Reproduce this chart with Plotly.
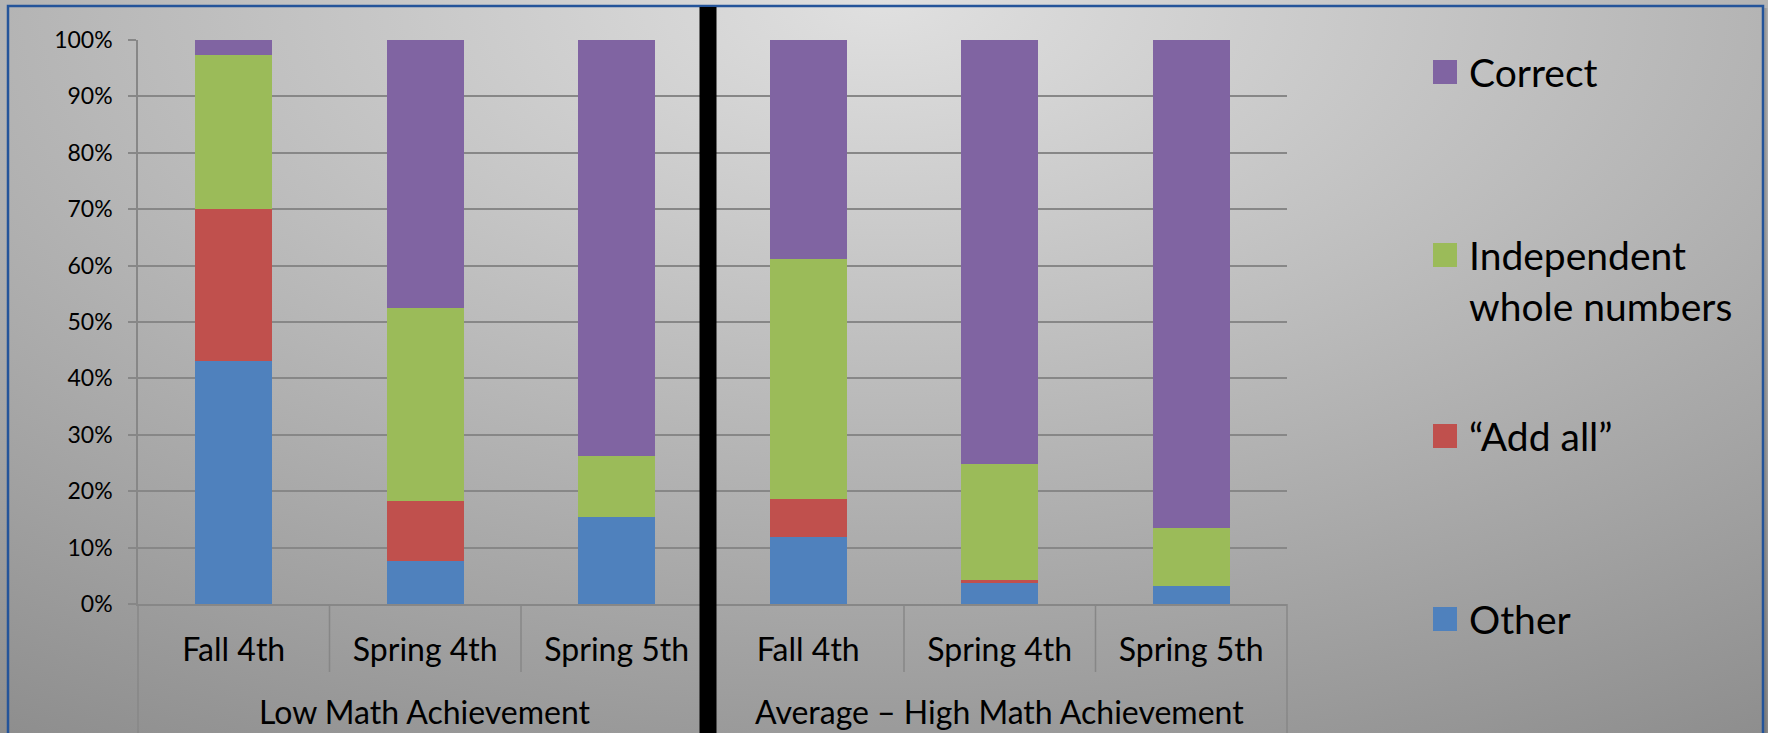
import base64
import plotly.graph_objects as go

# ---- data -------------------------------------------------------------
group_names = ["Low Math Achievement", "Average – High Math Achievement"]
period_names = ["Fall 4th", "Spring 4th", "Spring 5th"]
groups = [g for g in group_names for _ in period_names]
periods = period_names * len(group_names)

other = [43.0, 7.7, 15.5, 11.8, 3.7, 3.2]
add_all = [27.0, 10.5, 0.0, 6.8, 0.5, 0.0]
independent = [27.3, 34.3, 10.7, 42.6, 20.7, 10.3]
correct = [2.7, 47.5, 73.8, 38.8, 75.1, 86.5]

series_names = ["Other", "“Add all”", "Independent<br>whole numbers", "Correct"]
series_values = [other, add_all, independent, correct]
series_colors = ["#4f81bd", "#c0504d", "#9bbb59", "#8064a2"]

y_ticks = list(range(0, 101, 10))
y_tick_text = [f"{v}%" for v in y_ticks]

# unique category keys (group + period); only the period is shown as tick text
cat_keys = [f"{g} · {p}" for g, p in zip(groups, periods)]

# ---- geometry (pixels) ------------------------------------------------
W, H = 1768, 733
PL, PR, PT, PB = 138, 1287, 40, 604          # plot area edges
FONT = "Lato"
GRID = "#878787"


def px_x(px):
    return (px - PL) / (PR - PL)


def px_y(py):
    return (PB - py) / (PB - PT)


fig = go.Figure()
for name, vals, col in zip(series_names, series_values, series_colors):
    fig.add_trace(go.Bar(
        x=cat_keys, y=vals, name=name,
        marker=dict(color=col, line=dict(width=0)),
        showlegend=False,
    ))

# soft grey background gradient
svg = (
    f'<svg xmlns="http://www.w3.org/2000/svg" width="{W}" height="{H}">'
    '<defs><radialGradient id="g" gradientUnits="userSpaceOnUse" cx="0" cy="0" r="1" '
    'gradientTransform="translate(884,0) scale(1800,950)">'
    '<stop offset="0" stop-color="#e0e0e0"/><stop offset="1" stop-color="#868686"/>'
    '</radialGradient></defs>'
    f'<rect width="{W}" height="{H}" fill="url(#g)"/></svg>'
)
bg_uri = "data:image/svg+xml;base64," + base64.b64encode(svg.encode()).decode()

shapes = []
# outer frame
shapes.append(dict(type="rect", xref="paper", yref="paper",
                   x0=px_x(8), x1=px_x(1763), y0=px_y(760), y1=px_y(6),
                   line=dict(color="#24549a", width=2.5), fillcolor="rgba(0,0,0,0)"))
# faint shadow to the right of the frame
for i, a in enumerate([0.25, 0.15, 0.08]):
    shapes.append(dict(type="line", xref="paper", yref="paper",
                       x0=px_x(1765 + i), x1=px_x(1765 + i), y0=px_y(760), y1=px_y(8),
                       line=dict(color=f"rgba(40,40,40,{a})", width=1)))
# short dividers between periods
n_cat = len(cat_keys)
for k in range(1, n_cat):
    shapes.append(dict(type="line", xref="paper", yref="paper",
                       x0=k / n_cat, x1=k / n_cat, y0=0, y1=px_y(672),
                       line=dict(color=GRID, width=1.5)))
# long dividers at both ends of the category axis
for xx in [0, 1]:
    shapes.append(dict(type="line", xref="paper", yref="paper",
                       x0=xx, x1=xx, y0=0, y1=px_y(760),
                       line=dict(color=GRID, width=1.5)))
# heavy black separator between achievement groups
shapes.append(dict(type="rect", xref="paper", yref="paper",
                   x0=px_x(699.5), x1=px_x(716.5), y0=px_y(760), y1=px_y(7),
                   line=dict(width=0), fillcolor="#000000"))

annotations = []
# group labels under the period labels
n_per = len(period_names)
for gi, g in enumerate(group_names):
    annotations.append(dict(xref="paper", yref="paper",
                            x=(gi * n_per + n_per / 2) / n_cat, y=px_y(711),
                            text=g, showarrow=False, xanchor="center", yanchor="middle",
                            font=dict(family=FONT, size=32, color="#000")))

# legend, top to bottom
legend_rows = [(3, 72), (2, 255), (1, 436), (0, 619)]
LINE_GAP = 51
for idx, cy in legend_rows:
    shapes.append(dict(type="rect", xref="paper", yref="paper",
                       x0=px_x(1433), x1=px_x(1457), y0=px_y(cy + 12), y1=px_y(cy - 12),
                       line=dict(width=0), fillcolor=series_colors[idx]))
    text = series_names[idx]
    n = text.count("<br>") + 1
    annotations.append(dict(xref="paper", yref="paper", x=px_x(1467),
                            y=px_y(cy + (n - 1) * LINE_GAP / 2),
                            text=text, showarrow=False, xanchor="left", yanchor="middle",
                            align="left",
                            font=dict(family=FONT, size=39, color="#000")))

fig.update_layout(
    width=W, height=H, autosize=False,
    margin=dict(l=PL, r=W - PR, t=PT, b=H - PB, pad=0),
    barmode="stack", bargap=0.6,
    paper_bgcolor="#b0b0b0", plot_bgcolor="rgba(0,0,0,0)",
    font=dict(family=FONT, color="#000"),
    images=[dict(source=bg_uri, xref="paper", yref="paper",
                 x=px_x(0), y=px_y(0), sizex=W / (PR - PL), sizey=H / (PB - PT),
                 xanchor="left", yanchor="top", sizing="stretch", layer="below")],
    shapes=shapes,
    annotations=annotations,
    xaxis=dict(
        type="category", showgrid=False, showline=True,
        linecolor=GRID, linewidth=1.5, ticks="",
        tickmode="array", tickvals=cat_keys, ticktext=periods,
        tickfont=dict(family=FONT, size=32, color="#000"),
        ticklabelstandoff=17, tickangle=0,
    ),
    yaxis=dict(
        range=[0, 100], tickmode="array", tickvals=y_ticks, ticktext=y_tick_text,
        showgrid=True, gridcolor=GRID, gridwidth=1.5,
        showline=True, linecolor=GRID, linewidth=1.5,
        ticks="outside", ticklen=8, tickcolor=GRID, tickwidth=1.5,
        tickfont=dict(family=FONT, size=23, color="#000"),
        ticklabelstandoff=11, zeroline=False,
    ),
)

fig.write_html("out.html")
